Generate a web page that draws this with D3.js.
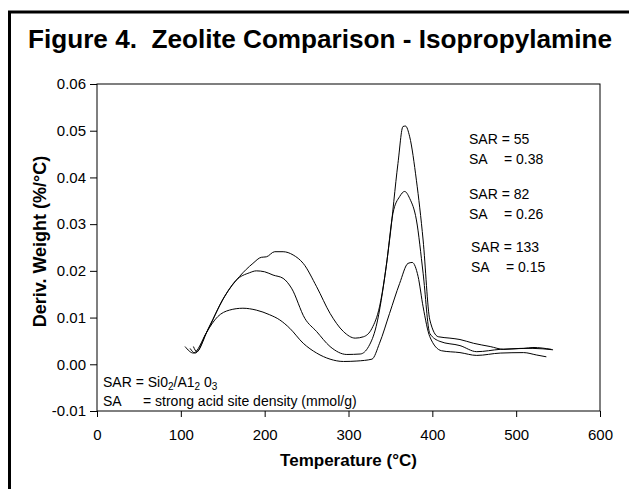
<!DOCTYPE html>
<html>
<head>
<meta charset="utf-8">
<script src="https://cdn.jsdelivr.net/npm/d3@7"></script>
<style>
  body { margin: 0; background: #fff; }
  svg { display: block; font-family: Arial, "Liberation Sans", sans-serif; }
</style>
</head>
<body>
<svg id="chart" width="629" height="489"></svg>
<script>
// temperature (°C) and derivative weight (%/°C)
const sar55 = [
  [105, 0.0038], [115, 0.0024], [130, 0.0066], [152, 0.0145], [170, 0.0188],
  [186, 0.0216], [196, 0.0229], [202, 0.0230], [212, 0.0241], [222, 0.0241],
  [234, 0.0234], [246, 0.0216], [262, 0.0166], [278, 0.0109], [294, 0.0070],
  [308, 0.0056], [318, 0.0059], [328, 0.0077], [337, 0.0123], [349, 0.0266],
  [359, 0.0430], [365, 0.0509], [368, 0.0510], [373, 0.0487], [381, 0.0394],
  [389, 0.0266], [397, 0.0095], [407, 0.0059], [421, 0.0056], [433, 0.0053],
  [449, 0.0045], [469, 0.0038], [485, 0.0032], [505, 0.0034], [520, 0.0034],
  [544, 0.0031]
]
const sar82 = [
  [111, 0.0034], [117, 0.0024], [134, 0.0081], [150, 0.0138], [166, 0.0180],
  [182, 0.0196], [190, 0.0200], [200, 0.0198], [210, 0.0191], [222, 0.0184],
  [232, 0.0163], [248, 0.0098], [262, 0.0070], [278, 0.0038], [298, 0.0021],
  [314, 0.0022], [324, 0.0038], [333, 0.0081], [345, 0.0209], [353, 0.0323],
  [361, 0.0359], [367, 0.0370], [373, 0.0355], [381, 0.0309], [389, 0.0195],
  [397, 0.0066], [409, 0.0049], [433, 0.0040], [453, 0.0027], [481, 0.0032],
  [509, 0.0034], [520, 0.0036], [542, 0.0032]
]
const sar133 = [
  [115, 0.0038], [119, 0.0027], [130, 0.0066], [144, 0.0102], [158, 0.0116],
  [174, 0.0120], [190, 0.0116], [206, 0.0106], [218, 0.0095], [230, 0.0077],
  [246, 0.0045], [262, 0.0024], [278, 0.0011], [294, 0.0006], [310, 0.0007],
  [328, 0.0011], [337, 0.0045], [349, 0.0109], [361, 0.0173], [371, 0.0216],
  [376, 0.0218], [383, 0.0188], [389, 0.0123], [397, 0.0059], [411, 0.0029],
  [433, 0.0025], [453, 0.0019], [481, 0.0024], [509, 0.0025], [524, 0.0020],
  [536, 0.0016]
]
const xTicks = [0, 100, 200, 300, 400, 500, 600]
const yTicks = [-0.01, 0.00, 0.01, 0.02, 0.03, 0.04, 0.05, 0.06]
const notes = [
  { sar: 'SAR = 55', sa: '= 0.38', x: 469, y: 144 },
  { sar: 'SAR = 82', sa: '= 0.26', x: 469, y: 199 },
  { sar: 'SAR = 133', sa: '= 0.15', x: 471, y: 252 }
]

const svg = d3.select('#chart')

const x = d3.scaleLinear().domain([0, 600]).range([97, 600])
const y = d3.scaleLinear().domain([-0.01, 0.06]).range([411, 84])

// outer frame (only top and left edges visible)
svg.append('path')
  .attr('d', 'M9.5,489 V12 H629')
  .attr('fill', 'none')
  .attr('stroke', '#000')
  .attr('stroke-width', 3)

svg.append('text')
  .attr('x', 28)
  .attr('y', 48)
  .attr('textLength', 584)
  .attr('lengthAdjust', 'spacingAndGlyphs')
  .style('font-size', '26px')
  .style('font-weight', 'bold')
  .style('white-space', 'pre')
  .text('Figure 4.  Zeolite Comparison - Isopropylamine')

// plot box
svg.append('rect')
  .attr('x', x(0))
  .attr('y', y(0.06))
  .attr('width', x(600) - x(0))
  .attr('height', y(-0.01) - y(0.06))
  .attr('fill', 'none')
  .attr('stroke', '#000')

const xAxis = svg.append('g')
  .attr('transform', `translate(0,${y(-0.01)})`)
  .call(d3.axisBottom(x).tickValues(xTicks).tickSize(6).tickPadding(12).tickFormat(d3.format('d')))
const yAxis = svg.append('g')
  .attr('transform', `translate(${x(0)},0)`)
  .call(d3.axisLeft(y).tickValues(yTicks).tickSize(7).tickPadding(4)
    .tickFormat(d => d3.format('.2f')(d).replace('−', '-')))

for (const ax of [xAxis, yAxis]) {
  ax.select('.domain').remove()
  ax.selectAll('line').attr('stroke', '#000')
  ax.selectAll('text')
    .attr('fill', '#000')
    .style('font-family', 'Arial, "Liberation Sans", sans-serif')
    .style('font-size', '15px')
}

svg.append('text')
  .attr('x', x(300))
  .attr('y', 466)
  .attr('text-anchor', 'middle')
  .style('font-size', '17px')
  .style('font-weight', 'bold')
  .text('Temperature (°C)')

svg.append('text')
  .attr('transform', `translate(46,${(y(0.06) + y(-0.01)) / 2 - 6}) rotate(-90)`)
  .attr('text-anchor', 'middle')
  .style('font-size', '18px')
  .style('font-weight', 'bold')
  .text('Deriv. Weight (%/°C)')

const line = d3.line()
  .x(d => x(d[0]))
  .y(d => y(d[1]))
  .curve(d3.curveMonotoneX)

svg.selectAll('path.trace')
  .data([sar55, sar82, sar133])
  .enter()
  .append('path')
  .attr('class', 'trace')
  .attr('d', line)
  .attr('fill', 'none')
  .attr('stroke', '#000')
  .attr('stroke-width', 1)

const noteG = svg.selectAll('g.note')
  .data(notes)
  .enter()
  .append('g')
  .attr('class', 'note')
  .style('font-size', '14px')
noteG.append('text').attr('x', d => d.x).attr('y', d => d.y).text(d => d.sar)
noteG.append('text').attr('x', d => d.x).attr('y', d => d.y + 20).text('SA')
noteG.append('text').attr('x', d => d.x + 35).attr('y', d => d.y + 20).text(d => d.sa)

// definitions, bottom left
const def1 = svg.append('text').attr('x', 103).attr('y', 387).style('font-size', '14px')
def1.append('tspan').text('SAR = Si0')
def1.append('tspan').attr('dy', 3).style('font-size', '10px').text('2')
def1.append('tspan').attr('dy', -3).text('/A1')
def1.append('tspan').attr('dy', 3).style('font-size', '10px').text('2')
def1.append('tspan').attr('dy', -3).text(' 0')
def1.append('tspan').attr('dy', 3).style('font-size', '10px').text('3')

svg.append('text').attr('x', 103).attr('y', 406).style('font-size', '14px').text('SA')
svg.append('text').attr('x', 143).attr('y', 406).style('font-size', '14px').text('= strong acid site density (mmol/g)')
</script>
</body>
</html>
